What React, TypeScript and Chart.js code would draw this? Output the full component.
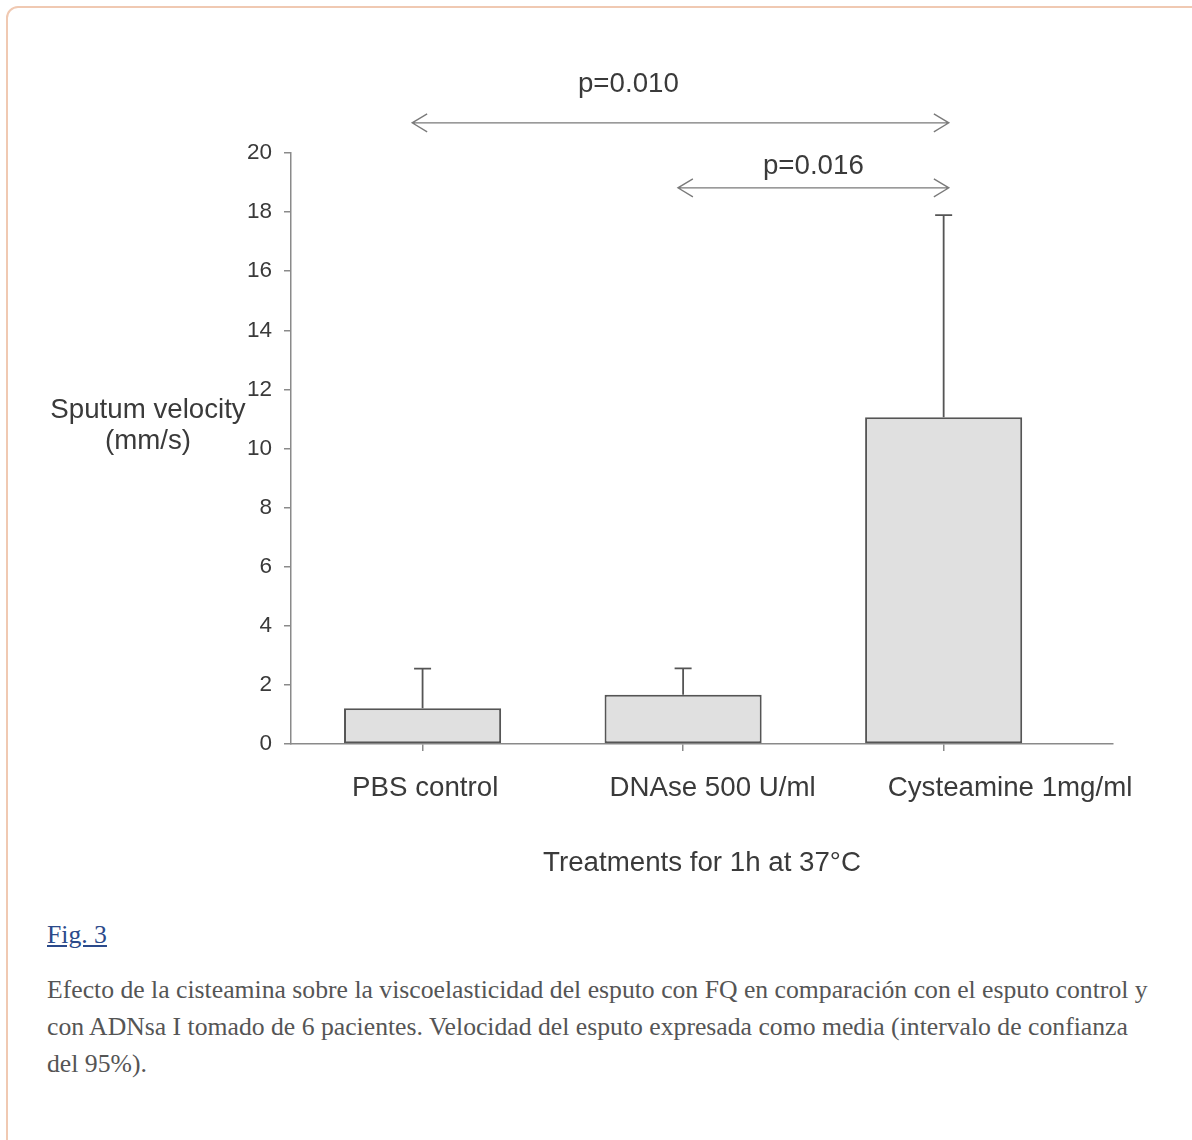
import React, { useEffect, useRef } from "react";
import { Chart, registerables } from "chart.js";

Chart.register(...registerables);

// ---- data ----
const categories = ["PBS control", "DNAse 500 U/ml", "Cysteamine 1mg/ml"];
const categoryLabelX = [0.01, 1.113, 2.255];
const meanVelocity = [1.21, 1.67, 11.06];
const upperCI = [2.55, 2.56, 17.9];
const yTitleLines = ["Sputum velocity", "(mm/s)"];
const xTitle = "Treatments for 1h at 37°C";
const comparisonStart = [-0.04, 0.98];
const comparisonEnd = [2.02, 2.02];
const comparisonLevel = [21.02, 18.82];
const pValueLabels = ["p=0.010", "p=0.016"];
const pLabelX = [0.79, 1.5];
const pLabelLevel = [22.33, 19.56];
const captionLink = "Fig. 3";
const captionText =
  "Efecto de la cisteamina sobre la viscoelasticidad del esputo con FQ en comparación con el esputo control y con ADNsa I tomado de 6 pacientes. Velocidad del esputo expresada como media (intervalo de confianza del 95%).";

const FONT = '"Liberation Sans", Arial, sans-serif';
const TEXT = "#3a3a3a";
const AXIS = "#8a8a8a";
const LABEL_SIZE = 27.7;

const annotationPlugin = {
  id: "annotations",
  afterDatasetsDraw(chart: any) {
    const { ctx, scales } = chart;
    const ys = scales.y;
    const meta = chart.getDatasetMeta(0);
    ctx.save();
    // error bars (upper only)
    ctx.strokeStyle = "#555";
    ctx.lineWidth = 1.8;
    meta.data.forEach((el: any, i: number) => {
      const yTop = ys.getPixelForValue(upperCI[i]);
      ctx.beginPath();
      ctx.moveTo(el.x, el.y);
      ctx.lineTo(el.x, yTop);
      ctx.moveTo(el.x - 8.5, yTop);
      ctx.lineTo(el.x + 8.5, yTop);
      ctx.stroke();
    });
    ctx.restore();
  },
  afterDraw(chart: any) {
    const { ctx, scales, chartArea } = chart;
    const xs = scales.x;
    const ys = scales.y;
    ctx.save();
    // comparison arrows
    ctx.strokeStyle = "#7a7a7a";
    ctx.lineWidth = 1.3;
    for (let i = 0; i < pValueLabels.length; i++) {
      const x1 = xs.getPixelForValue(comparisonStart[i]);
      const x2 = xs.getPixelForValue(comparisonEnd[i]);
      const y = ys.getPixelForValue(comparisonLevel[i]);
      ctx.beginPath();
      ctx.moveTo(x1, y);
      ctx.lineTo(x2, y);
      ctx.moveTo(x1 + 15, y - 9);
      ctx.lineTo(x1, y);
      ctx.lineTo(x1 + 15, y + 9);
      ctx.moveTo(x2 - 15, y - 9);
      ctx.lineTo(x2, y);
      ctx.lineTo(x2 - 15, y + 9);
      ctx.stroke();
      ctx.fillStyle = TEXT;
      ctx.font = `${LABEL_SIZE}px ${FONT}`;
      ctx.textAlign = "center";
      ctx.textBaseline = "middle";
      ctx.fillText(
        pValueLabels[i],
        xs.getPixelForValue(pLabelX[i]),
        ys.getPixelForValue(pLabelLevel[i])
      );
    }
    // category labels (as placed in the original figure)
    ctx.fillStyle = TEXT;
    ctx.font = `${LABEL_SIZE}px ${FONT}`;
    ctx.textAlign = "center";
    ctx.textBaseline = "middle";
    categories.forEach((c, i) => {
      ctx.fillText(c, xs.getPixelForValue(categoryLabelX[i]), chartArea.bottom + 44);
    });
    // horizontal y-axis title
    yTitleLines.forEach((line, i) => {
      ctx.fillText(line, chartArea.left - 143, 410 + i * 31);
    });
    ctx.restore();
  },
};

function BarChart() {
  const ref = useRef<HTMLCanvasElement | null>(null);
  useEffect(() => {
    if (!ref.current) return;
    const chart = new Chart(ref.current, {
      type: "bar",
      data: {
        datasets: [
          {
            data: categories.map((_, i) => ({ x: i, y: meanVelocity[i] })),
            backgroundColor: "#e0e0e0",
            borderColor: "#555",
            borderWidth: 2,
            borderSkipped: false,
            barPercentage: 0.603,
            categoryPercentage: 1,
          },
        ],
      },
      options: {
        animation: false,
        responsive: false,
        maintainAspectRatio: false,
        layout: { padding: { left: 0, right: 79, top: 153, bottom: 0 } },
        plugins: { legend: { display: false }, tooltip: { enabled: false } },
        scales: {
          x: {
            type: "linear",
            offset: false,
            min: -0.505,
            max: 2.65,
            afterBuildTicks: (scale: any) => {
              scale.ticks = categories.map((_, i) => ({ value: i }));
            },
            afterFit: (scale: any) => {
              scale.height = 156;
            },
            ticks: {
              autoSkip: false,
              maxRotation: 0,
              padding: 21,
              color: TEXT,
              font: { family: FONT, size: LABEL_SIZE },
              callback: () => "",
            },
            grid: {
              display: true,
              offset: false,
              drawOnChartArea: false,
              drawTicks: true,
              tickLength: 7,
              color: AXIS,
              lineWidth: 1.5,
            },
            border: { display: true, color: AXIS, width: 1.5 },
            title: {
              display: true,
              text: xTitle,
              color: TEXT,
              font: { family: FONT, size: LABEL_SIZE },
              padding: { top: 0, bottom: 20 },
            },
          },
          y: {
            min: 0,
            max: 20,
            afterFit: (scale: any) => {
              scale.width = 291;
            },
            ticks: {
              stepSize: 2,
              padding: 12,
              color: TEXT,
              font: { family: FONT, size: 22.5 },
            },
            grid: {
              display: true,
              drawOnChartArea: false,
              drawTicks: true,
              tickLength: 7,
              color: AXIS,
              lineWidth: 1.5,
            },
            border: { display: true, color: AXIS, width: 1.5 },
          },
        },
      },
      plugins: [annotationPlugin],
    } as any);
    return () => chart.destroy();
  }, []);
  return (
    <canvas
      ref={ref}
      width={1192}
      height={900}
      style={{ position: "absolute", left: 0, top: 0, width: 1192, height: 900 }}
    />
  );
}

export default function App() {
  return (
    <div
      style={{
        position: "fixed",
        left: 0,
        top: 0,
        width: 1192,
        height: 1140,
        overflow: "hidden",
        background: "#fff",
      }}
    >
      <div
        style={{
          position: "absolute",
          left: 6,
          top: 6,
          width: 1240,
          height: 1240,
          border: "2px solid #f0c9b2",
          borderRadius: 12,
          boxSizing: "border-box",
        }}
      />
      <BarChart />
      <div
        style={{
          position: "absolute",
          left: 47,
          top: 916,
          width: 1115,
          fontFamily: '"Liberation Serif", "Times New Roman", serif',
          fontSize: 25.7,
          lineHeight: "37px",
          color: "#555",
        }}
      >
        <div style={{ color: "#2b4a8b", textDecoration: "underline", marginBottom: 18 }}>
          {captionLink}
        </div>
        <div>{captionText}</div>
      </div>
    </div>
  );
}
